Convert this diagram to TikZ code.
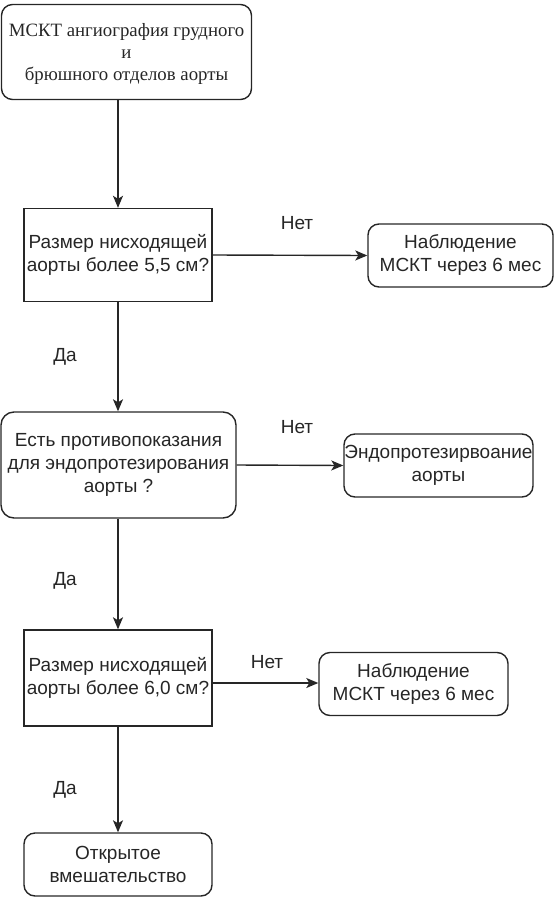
\documentclass[tikz,border=0pt]{standalone}
\usepackage{fontspec}
\setmainfont{Liberation Sans}
\newfontfamily\serifru{Liberation Serif}
\usetikzlibrary{arrows.meta}
\begin{document}
\begin{tikzpicture}[x=1pt,y=-1pt,
  boxbase/.style={draw=black!85, line width=1.4pt, align=center, inner sep=0pt,
     font=\fontsize{19}{23}\selectfont, text=black!85},
  roundbox/.style={boxbase, rounded corners=11pt},
  squarebox/.style={boxbase},
  conn/.style={draw=black!85, line width=1.4pt, -{Stealth[length=12pt,width=10pt,inset=3pt]}},
  lbl/.style={font=\fontsize{19}{23}\selectfont, text=black!85, inner sep=0pt}]
\useasboundingbox (0,0) rectangle (555,897);
\node[roundbox, minimum width=250pt, minimum height=95pt, font=\serifru\fontsize{18.8}{22}\selectfont] (b1) at (126.5,52) {\rule{0pt}{16pt}МСКТ ангиография грудного\\и\\брюшного отделов аорты};
\node[squarebox, minimum width=188pt, minimum height=93pt] (b2) at (118,255) {Размер нисходящей\\аорты более 5,5 см?};
\node[roundbox, minimum width=185pt, minimum height=63pt] (b3) at (460.5,255.5) {Наблюдение\\МСКТ через 6 мес};
\node[roundbox, rounded corners=13pt, minimum width=235pt, minimum height=106pt] (b4) at (118.5,465) {Есть противопоказания\\для эндопротезирования\\аорты ?};
\node[roundbox, minimum width=189pt, minimum height=63pt] (b5) at (438.5,465.5) {Эндопротезирвоание\\аорты};
\node[squarebox, minimum width=188pt, minimum height=96pt] (b6) at (118,678) {Размер нисходящей\\аорты более 6,0 см?};
\node[roundbox, minimum width=189pt, minimum height=63pt] (b7) at (413.5,684) {Наблюдение\\МСКТ через 6 мес};
\node[roundbox, minimum width=188pt, minimum height=63pt] (b8) at (118,864.5) {Открытое\\вмешательство};
\coordinate (e6) at ([yshift=-5pt]b6.east);
\draw[conn] (b2.north |- b1.south) -- (b2.north);
\draw[conn] (b2.east) -- (b3.west);
\draw[conn] (b2.south) -- (b4.north -| b2.south);
\draw[conn] (b4.east) -- (b5.west);
\draw[conn] (b4.south -| b6.north) -- (b6.north);
\draw[conn] (e6) -- (b7.west |- e6);
\draw[conn] (b6.south) -- (b8.north);
\node[lbl] (n1) at (297,223) {Нет};
\node[lbl] (n2) at (297,427) {Нет};
\node[lbl] (n3) at (267,662) {Нет};
\node[lbl] (d1) at (65,357) {Да};
\node[lbl] (d2) at (65,581) {Да};
\node[lbl] (d3) at (65,790) {Да};
\end{tikzpicture}
\end{document}
